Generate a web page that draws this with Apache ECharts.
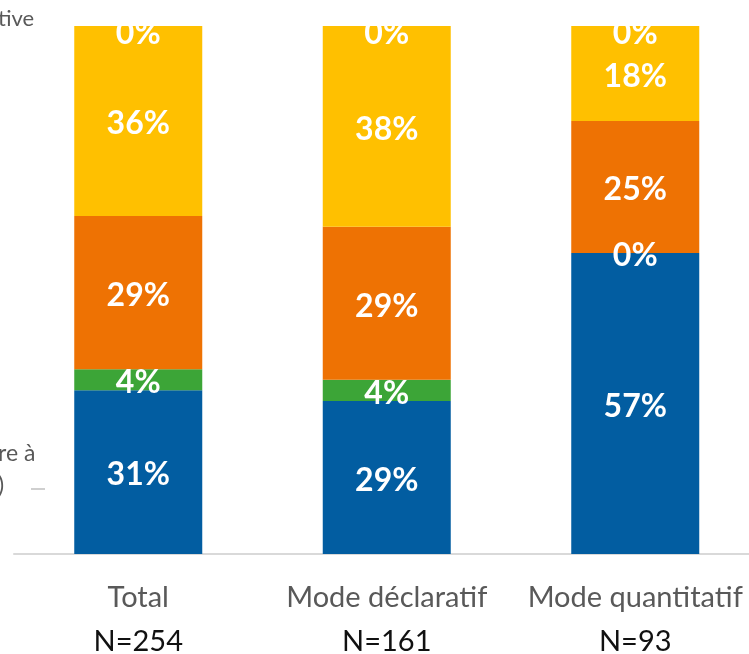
<!DOCTYPE html>
<html><head><meta charset="utf-8">
<script src="https://cdn.jsdelivr.net/npm/echarts@6/dist/echarts.min.js"></script>
<style>html,body{margin:0;padding:0;background:#fff}#c{width:749px;height:654px}</style>
</head><body><div id="c"></div>
<script>
const categories = ['Total', 'Mode déclaratif', 'Mode quantitatif'];
const counts = ['N=254', 'N=161', 'N=93'];
const blueVals = [31, 29, 57];
const greenVals = [4, 4, 0];
const orangeVals = [29, 29, 25];
const yellowVals = [36, 38, 18];
const grayVals = [0, 0, 0.3];

const chart = echarts.init(document.getElementById('c'));
const lblFont = 'Lato, "Open Sans", sans-serif';
function lbl(extra) {
  return Object.assign({
    show: true, position: 'inside', offset: [0, 3], color: '#fff', fontSize: 32, fontWeight: 'bold',
    fontFamily: lblFont, formatter: p => Math.round(p.value) + '%'
  }, extra || {});
}
function ser(name, data, color, extra) {
  return Object.assign({
    name, type: 'bar', stack: 's', data, barWidth: 128,
    itemStyle: { color }, label: lbl(), emphasis: { disabled: true }
  }, extra || {});
}
chart.setOption({
  animation: false,
  grid: { left: 14, right: -10.5, top: 26, bottom: 100, containLabel: false, outerBoundsMode: 'none' },
  xAxis: {
    type: 'category', data: categories,
    axisLine: { lineStyle: { color: '#d9d9d9', width: 2 } },
    axisTick: { show: false },
    axisLabel: {
      interval: 0, margin: 22,
      formatter: (v, i) => '{a|' + v + '}\n{b|' + counts[i] + '}',
      rich: {
        a: { color: '#595959', fontSize: 29, fontFamily: lblFont, lineHeight: 44 },
        b: { color: '#111', fontSize: 29, fontFamily: lblFont, lineHeight: 44 }
      }
    }
  },
  yAxis: { type: 'value', min: 0, max: 100, show: false, splitLine: { show: false } },
  series: [
    ser('s1', blueVals, '#025DA1'),
    ser('s2', greenVals, '#3CA537'),
    ser('s3', orangeVals, '#EE7203'),
    ser('s4', yellowVals, '#FFC000'),
    ser('s5', grayVals, '#BFBFBF', { label: lbl({ position: 'inside', offset: [0, 8] }) })
  ],
  graphic: [
    { type: 'rect', shape: { x: 0, y: 0, width: 749, height: 25 }, style: { fill: '#fff' }, z: 100 },
    { type: 'text', left: -2, top: 8, z: 101, style: { text: 'tive', fill: '#595959', font: '22px ' + lblFont } },
    { type: 'text', left: -2, top: 442, z: 101, style: { text: 're à', fill: '#595959', font: '23px ' + lblFont } },
    { type: 'text', left: -2, top: 474, z: 101, style: { text: ')', fill: '#595959', font: '23px ' + lblFont } },
    { type: 'line', shape: { x1: 31, y1: 489, x2: 45, y2: 489 }, style: { stroke: '#bfbfbf', lineWidth: 1.5 }, z: 101 }
  ]
});
</script></body></html>
